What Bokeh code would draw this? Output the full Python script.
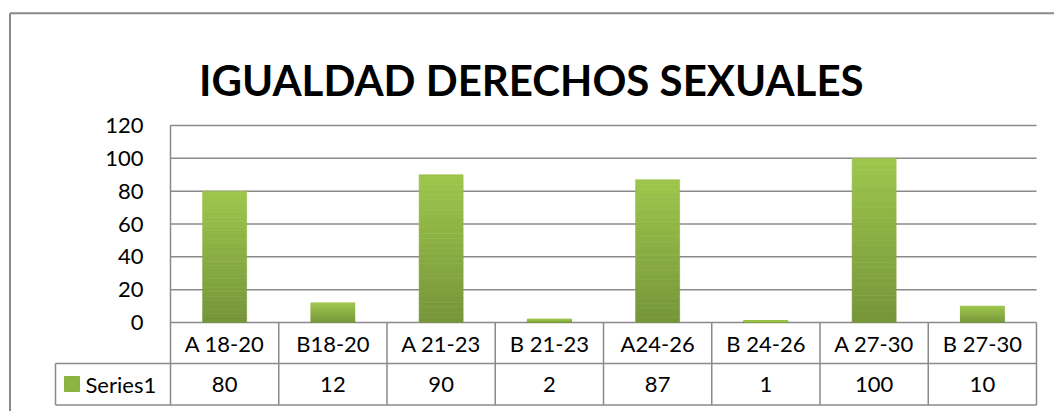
from bokeh.plotting import figure
from bokeh.models import Range1d
from bokeh.core.properties import value
from bokeh.embed import file_html
from bokeh.resources import INLINE

# ---------------- data ----------------
title_text = "IGUALDAD  DERECHOS  SEXUALES"
categories = ["A 18-20", "B18-20", "A 21-23", "B 21-23", "A24-26", "B 24-26", "A 27-30", "B 27-30"]
values = [80, 12, 90, 2, 87, 1, 100, 10]
y_ticks = [0, 20, 40, 60, 80, 100, 120]
series_name = "Series1"

# ---------------- layout (canvas pixels) ----------------
W, H = 1054, 411
PL, PR = 170, 1036      # plot area left / right
PT, PB = 125, 322       # plot area top / bottom (y=0 line)
ROW1_B, ROW2_B = 363, 404.5
CELL_L = 55
NCAT = len(categories)
YMAX = y_ticks[-1]
XU = NCAT / (PR - PL)          # data units per px (x)
YU = YMAX / (PB - PT)          # data units per px (y)


def dx(px):
    return (px - PL) * XU


def dy(py):
    return (PB - py) * YU


p = figure(width=W, height=H, output_backend="svg", toolbar_location=None,
           x_axis_type=None, y_axis_type=None,
           x_range=Range1d(dx(0), dx(W)), y_range=Range1d(dy(H), dy(0)),
           min_border=0, min_border_left=0, min_border_right=0,
           min_border_top=0, min_border_bottom=0)
p.outline_line_color = None
p.background_fill_color = "white"
p.border_fill_color = "white"

GRID = "#8a8a8a"
FONT = value("Lato")

# outer chart frame (left and top visible)
p.segment(x0=[dx(9.5), dx(9.5)], y0=[dy(12.7), dy(12.7)],
          x1=[dx(9.5), dx(W)], y1=[dy(H), dy(12.7)],
          line_color="#8a8a8a", line_width=2)

# gridlines
p.segment(x0=[0] * len(y_ticks), x1=[NCAT] * len(y_ticks), y0=y_ticks, y1=y_ticks,
          line_color=GRID, line_width=1.5)

# bars with vertical gradient (light top -> dark bottom)
N = 30
light = (158, 198, 76)
dark = (117, 149, 57)
bx, bb, bt, bc = [], [], [], []
for i, v in enumerate(values):
    for j in range(N):
        t = (j + 0.5) / N
        r = round(dark[0] + (light[0] - dark[0]) * t)
        g = round(dark[1] + (light[1] - dark[1]) * t)
        b = round(dark[2] + (light[2] - dark[2]) * t)
        bx.append(i + 0.5)
        bb.append(v * j / N)
        bt.append(v * (j + 1) / N)
        bc.append("#%02x%02x%02x" % (r, g, b))
p.vbar(x=bx, bottom=bb, top=bt, width=44 * XU, fill_color=bc, line_color=bc, line_width=0.6)

# plot-area left border + table vertical lines
vx0 = [k for k in range(NCAT + 1)]
vy0 = [YMAX] + [0] * NCAT
p.segment(x0=vx0, x1=vx0, y0=vy0, y1=[dy(ROW2_B)] * (NCAT + 1),
          line_color=GRID, line_width=1.5)
# table horizontal lines + legend cell left border
p.segment(x0=[dx(CELL_L), dx(CELL_L), dx(CELL_L)],
          x1=[NCAT, NCAT, dx(CELL_L)],
          y0=[dy(ROW1_B), dy(ROW2_B), dy(ROW1_B)],
          y1=[dy(ROW1_B), dy(ROW2_B), dy(ROW2_B)],
          line_color=GRID, line_width=1.5)

# title
p.text(x=[dx(541)], y=[dy(79)], text=[title_text], text_font=FONT,
       text_font_size=value("42px"), text_font_style="bold", text_color="black",
       text_align="center", text_baseline="alphabetic")

# y tick labels
p.text(x=[dx(143)] * len(y_ticks), y=y_ticks, text=[str(t) for t in y_ticks],
       text_font=FONT, text_font_size=value("22px"), text_color="black",
       text_align="right", text_baseline="middle")

# table: categories row and values row
cx = [i + 0.5 for i in range(NCAT)]
p.text(x=cx, y=[dy((PB + ROW1_B) / 2)] * NCAT, text=categories, text_font=FONT,
       text_font_size=value("22px"), text_color="black",
       text_align="center", text_baseline="middle")
p.text(x=cx, y=[dy((ROW1_B + ROW2_B) / 2)] * NCAT, text=[str(v) for v in values],
       text_font=FONT, text_font_size=value("22px"), text_color="black",
       text_align="center", text_baseline="middle")

# legend key + series name
p.rect(x=[dx(71.5)], y=[dy(383.5)], width=15, height=15,
       width_units="screen", height_units="screen",
       fill_color="#8cb443", line_color="#8cb443")
p.text(x=[dx(85)], y=[dy((ROW1_B + ROW2_B) / 2)], text=[series_name], text_font=FONT,
       text_font_size=value("22px"), text_color="black",
       text_align="left", text_baseline="middle")

open("out.html", "w").write(file_html(p, INLINE))
